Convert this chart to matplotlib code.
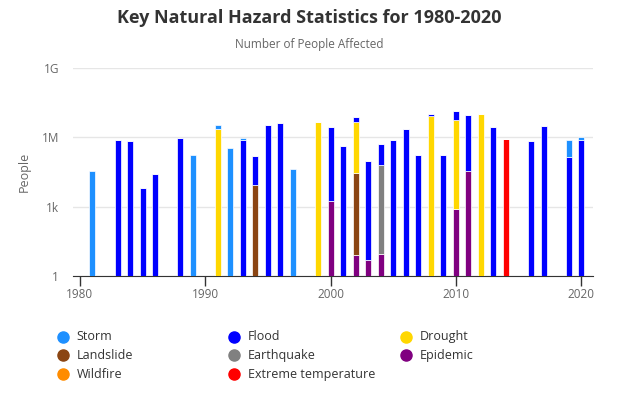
import matplotlib.pyplot as plt
import numpy as np
from matplotlib.lines import Line2D

plt.rcParams['font.family'] = ['Open Sans', 'DejaVu Sans']

years = [1981, 1983, 1984, 1985, 1986, 1988, 1989, 1991, 1992, 1993,
         1994, 1995, 1996, 1997, 1999, 2000, 2001, 2002, 2003, 2004,
         2005, 2006, 2007, 2008, 2009, 2010, 2011, 2012, 2013, 2014,
         2016, 2017, 2019, 2020]

# people affected per hazard type
storm = [36000, 0, 0, 0, 0, 0, 165000, 1300000, 330000, 170000,
         0, 0, 0, 44000, 0, 0, 0, 0, 0, 0,
         0, 0, 0, 0, 0, 0, 0, 0, 0, 0,
         0, 0, 600000, 240000]
flood = [0, 800000, 660000, 6600, 25000, 980000, 0, 0, 0, 760000,
         141000, 3500000, 4300000, 0, 0, 2900000, 400000, 2600000, 94000, 447000,
         760000, 2200000, 165000, 1300000, 165000, 7800000, 9000000, 0, 2900000, 0,
         660000, 3200000, 135000, 760000]
drought = [0, 0, 0, 0, 0, 0, 0, 2200000, 0, 0,
           0, 0, 0, 0, 4800000, 0, 0, 4770000, 0, 0,
           0, 0, 0, 8700000, 0, 5700000, 0, 10000000, 0, 0,
           0, 0, 0, 0]
landslide = [0, 0, 0, 0, 0, 0, 0, 0, 0, 0,
             8700, 0, 0, 0, 0, 0, 0, 29000, 0, 0,
             0, 0, 0, 0, 0, 0, 0, 0, 0, 0,
             0, 0, 0, 0]
earthquake = [0, 0, 0, 0, 0, 0, 0, 0, 0, 0,
              0, 0, 0, 0, 0, 0, 0, 0, 0, 63000,
              0, 0, 0, 0, 0, 0, 0, 0, 0, 0,
              0, 0, 0, 0]
epidemic = [0, 0, 0, 0, 0, 0, 0, 0, 0, 0,
            0, 0, 0, 0, 0, 1800, 0, 7, 4, 8,
            0, 0, 0, 0, 0, 810, 36000, 0, 0, 0,
            0, 0, 0, 0]
wildfire = [0] * len(years)
extreme_temp = [0, 0, 0, 0, 0, 0, 0, 0, 0, 0,
                0, 0, 0, 0, 0, 0, 0, 0, 0, 0,
                0, 0, 0, 0, 0, 0, 0, 0, 0, 840000,
                0, 0, 0, 0]

series = [
    ('Storm', storm, '#1E90FF'),
    ('Flood', flood, '#0000FF'),
    ('Drought', drought, '#FFD700'),
    ('Landslide', landslide, '#8B4513'),
    ('Earthquake', earthquake, '#808080'),
    ('Epidemic', epidemic, '#800080'),
    ('Wildfire', wildfire, '#FF8C00'),
    ('Extreme temperature', extreme_temp, '#FF0000'),
]

fig = plt.figure(figsize=(6.18, 3.98), dpi=100)
ax = fig.add_axes([0.118, 0.307, 0.8415, 0.522])

# first series sits on top of the stack, so draw from the last one up
bottom = np.ones(len(years))
for name, vals, color in reversed(series):
    vals = np.array(vals, dtype=float)
    ax.bar(years, vals, bottom=bottom, width=0.48, color=color,
           edgecolor='white', linewidth=0.5, zorder=3)
    bottom = bottom + vals

ax.set_yscale('log')
ax.set_ylim(1, 1e9)
ax.set_xlim(1979.44, 2020.94)
ax.set_yticks([1, 1e3, 1e6, 1e9])
ax.set_yticklabels(['1', '1k', '1M', '1G'])
ax.minorticks_off()
ax.set_xticks([1980, 1990, 2000, 2010, 2020])
ax.grid(axis='y', color='#e6e6e6', linewidth=1, zorder=0)
for s in ['top', 'right', 'left']:
    ax.spines[s].set_visible(False)
ax.spines['bottom'].set_color('#333333')
ax.tick_params(axis='y', length=0, pad=10, labelsize=8.5, labelcolor='#666666')
ax.tick_params(axis='x', length=7, width=1, color='#333333', pad=2,
               labelsize=8.5, labelcolor='#666666')
ax.set_ylabel('People', color='#666666', fontsize=9, labelpad=8)

fig.text(0.5, 0.955, 'Key Natural Hazard Statistics for 1980-2020',
         ha='center', va='center', fontsize=13, fontweight='bold', color='#333333')
fig.text(0.5, 0.888, 'Number of People Affected', ha='center', va='center',
         fontsize=8.5, color='#666666')

# legend: three columns laid out by row like the original
col_x = [0.1015, 0.379, 0.6565]
row_y = [0.154, 0.107, 0.06]
for i, (name, vals, color) in enumerate(series):
    r, c = divmod(i, 3)
    fig.add_artist(Line2D([col_x[c]], [row_y[r]], marker='o', markersize=8,
                          color=color, linestyle='none', transform=fig.transFigure))
    fig.text(col_x[c] + 0.0225, row_y[r], name, ha='left', va='center',
             fontsize=9, color='#333333')

fig.savefig('out.png', dpi=100)
